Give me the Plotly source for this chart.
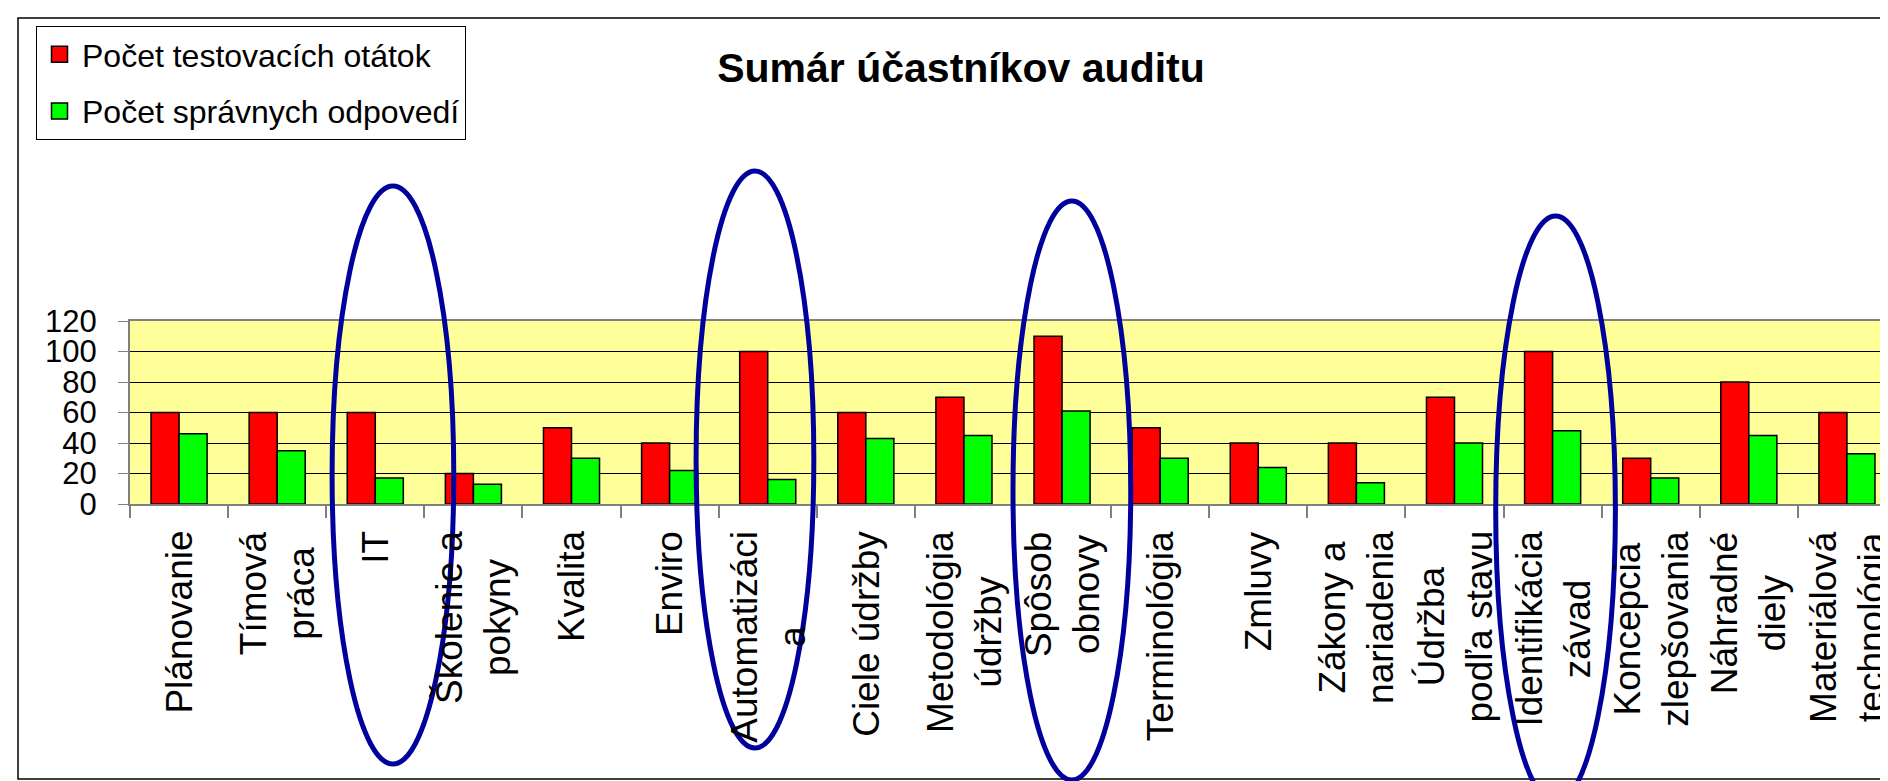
import plotly.graph_objects as go

# ---------------- data ----------------
categories = [
    "Plánovanie", "Tímová<br>práca", "IT", "Školenie a<br>pokyny", "Kvalita",
    "Enviro", "Automatizáci<br>a", "Ciele údržby", "Metodológia<br>údržby",
    "Spôsob<br>obnovy", "Terminológia", "Zmluvy", "Zákony a<br>nariadenia",
    "Údržba<br>podľa stavu", "Identifikácia<br>závad", "Koncepcia<br>zlepšovania",
    "Náhradné<br>diely", "Materiálová<br>technológia",
]
tests_count = [60, 60, 60, 20, 50, 40, 100, 60, 70, 110, 50, 40, 40, 70, 100, 30, 80, 60]
correct_count = [46, 35, 17, 13, 30, 22, 16, 43, 45, 61, 30, 24, 14, 40, 48, 17, 45, 33]
series_names = ["Počet testovacích otátok", "Počet správnych odpovedí"]
series_colors = ["#FF0000", "#00FF00"]
y_ticks = [0, 20, 40, 60, 80, 100, 120]
title_text = "Sumár účastníkov auditu"

# highlighted categories (hand-drawn ellipses): index, x-offset, half-width (category units), top/bottom px
highlights = [
    (2, 0.18, 0.62, 178, 756),
    (6, -0.13, 0.60, 163, 740),
    (9, 0.10, 0.60, 193, 772),
    (14, 0.03, 0.61, 208, 795),
]

# ---------------- layout constants ----------------
W, H = 1888, 781
ML, MR, MT, MB = 122, 0, 313, 285
PW, PH = W - ML - MR, H - MT - MB

FONT = "Liberation Sans, Arial, sans-serif"


def px_x(px):
    return (px - ML) / PW


def px_y(py):
    return (H - MB - py) / PH


fig = go.Figure()
for vals, name, col in zip([tests_count, correct_count], series_names, series_colors):
    fig.add_trace(go.Bar(
        x=categories, y=vals, name=name, showlegend=False,
        marker=dict(color=col, line=dict(color="black", width=1.5)),
    ))
# legend keys (square swatches like the original)
for i, (name, col) in enumerate(zip(series_names, series_colors)):
    fig.add_trace(go.Scatter(
        x=[None], y=[None], mode="markers", name=name, legendgroup=str(i),
        marker=dict(symbol="square", size=16, color=col, line=dict(color="black", width=1.5)),
    ))

shapes = [
    dict(type="rect", xref="paper", yref="paper",
         x0=px_x(10), x1=px_x(W + 20), y0=px_y(771), y1=px_y(10),
         line=dict(color="black", width=1.5), fillcolor="rgba(0,0,0,0)", layer="below"),
]
for idx, dx, hw, top, bottom in highlights:
    shapes.append(dict(
        type="circle", xref="x", yref="paper",
        x0=idx + dx - hw, x1=idx + dx + hw, y0=px_y(bottom), y1=px_y(top),
        line=dict(color="#00009C", width=5), fillcolor="rgba(0,0,0,0)",
    ))

# category labels: rotated, lines centred on each other (as in the original)
annotations = [
    dict(text=c, x=c, xref="x", y=px_y(521), yref="paper", xanchor="center",
         yanchor="top", textangle=-90, align="center", showarrow=False,
         font=dict(family=FONT, size=37, color="black"))
    for c in categories
]

fig.update_layout(
    width=W, height=H,
    margin=dict(l=ML, r=MR, t=MT, b=MB, pad=0, autoexpand=False),
    paper_bgcolor="white", plot_bgcolor="#FFFF99",
    barmode="group", bargap=0.4286, bargroupgap=0,
    title=dict(text="<b>" + title_text + "</b>", x=953 / W, y=1 - 60 / H,
               xref="container", yref="container", xanchor="center", yanchor="middle",
               font=dict(family=FONT, size=41, color="black")),
    legend=dict(x=28 / W, y=1 - 18 / H, xref="container", yref="container",
                xanchor="left", yanchor="top", bgcolor="white",
                bordercolor="black", borderwidth=1, itemwidth=35,
                font=dict(family=FONT, size=32, color="black"),
                traceorder="grouped", tracegroupgap=12),
    shapes=shapes,
    annotations=annotations,
    xaxis=dict(type="category", tickson="boundaries", ticks="outside", ticklen=12,
               tickcolor="#808080", tickwidth=1.5, showline=True, mirror=True,
               linecolor="#808080", linewidth=2, showgrid=False,
               showticklabels=False),
    yaxis=dict(range=[0, 120], tickvals=y_ticks, showgrid=True, gridcolor="black",
               gridwidth=1, showline=True, linecolor="#808080", linewidth=2,
               ticks="outside", ticklen=10, tickcolor="#808080", zeroline=False,
               ticklabelstandoff=15,
               tickfont=dict(family=FONT, size=31, color="black")),
    font=dict(family=FONT, color="black"),
)

fig.write_html("out.html")
